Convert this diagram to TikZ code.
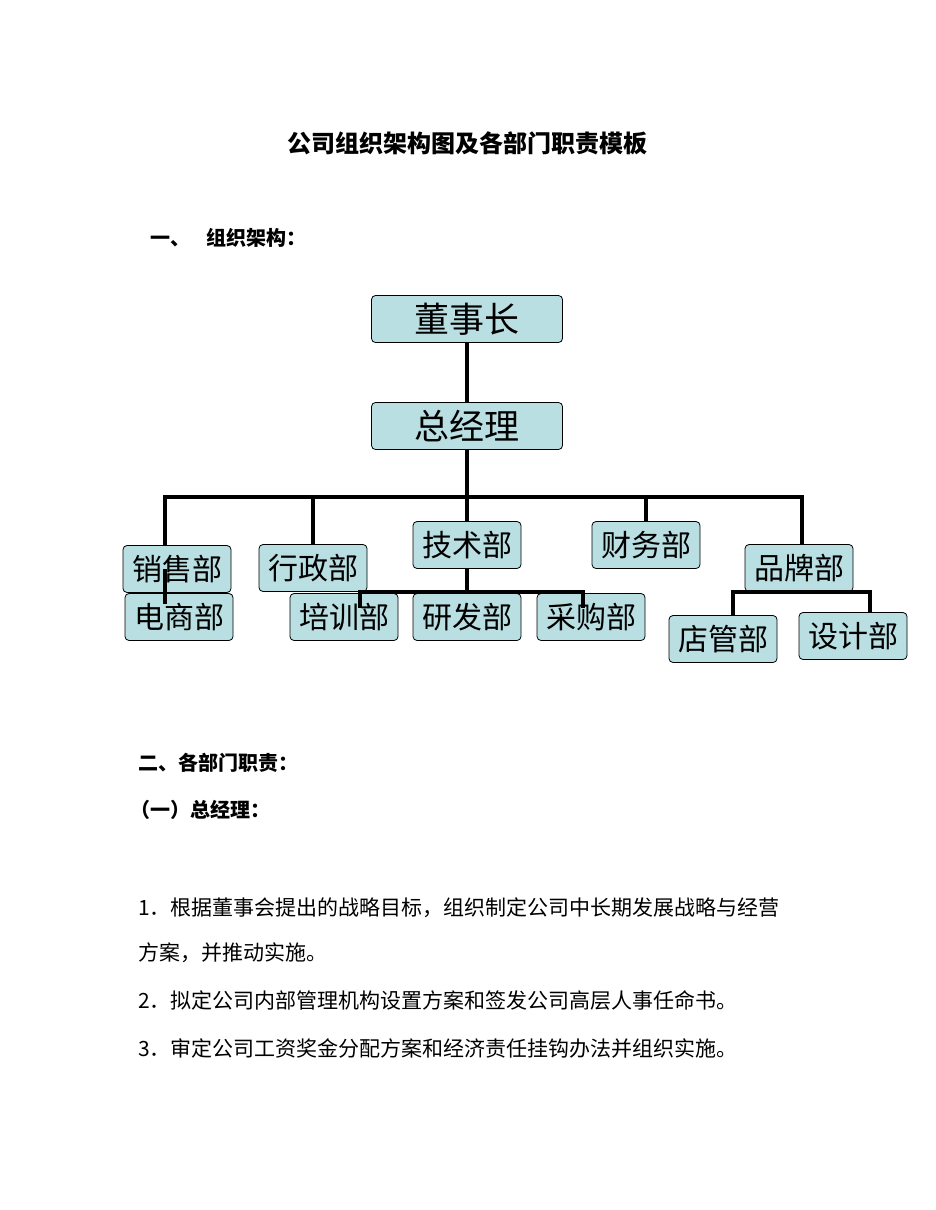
\documentclass[tikz,border=0pt]{standalone}
\usepackage{fontspec}
\setmainfont{Liberation Serif}
\newfontfamily\cjk{Noto Sans CJK SC}
\usetikzlibrary{positioning}
\definecolor{boxfill}{HTML}{B9DFE2}
\tikzset{
  dept/.style={draw=black, thick, fill=boxfill, rounded corners=4pt, minimum width=108pt, minimum height=47pt, inner sep=0pt, font=\cjk\fontsize{30}{30}\selectfont},
  top/.style={dept, minimum width=191pt, font=\cjk\fontsize{35}{35}\selectfont},
  link/.style={line width=4pt},
  txt/.style={anchor=west, inner sep=0pt, font=\cjk\fontsize{21}{21}\selectfont},
  head/.style={anchor=west, inner sep=0pt, font=\cjk\bfseries\fontsize{20}{20}\selectfont}
}
\begin{document}
\begin{tikzpicture}[x=1pt,y=-1pt]
\useasboundingbox[fill=white] (0,0) rectangle (935,1210);

\node[inner sep=0pt, font=\cjk\bfseries\fontsize{24}{24}\selectfont] (title) at (467,143) {公司组织架构图及各部门职责模板};
\node[head] (h1) at (150,238) {一、\hspace{16pt}组织架构：};

% chart
\node[top] (dsz) at (467,319) {董事长};
\node[top] (zjl) at (467,426) {总经理};
\node[dept] (xs) at (177,569) {销售部};
\node[dept] (ds) at (179,617) {电商部};
\node[dept] (xz) at (313,568) {行政部};
\node[dept] (js) at (467,545) {技术部};
\node[dept] (cw) at (646,545) {财务部};
\node[dept] (pp) at (799,568) {品牌部};
\node[dept] (px) at (344,617) {培训部};
\node[dept] (yf) at (467,617) {研发部};
\node[dept] (cg) at (591,617) {采购部};
\node[dept] (dg) at (723,639) {店管部};
\node[dept] (sj) at (853,636) {设计部};

\coordinate (barL) at (165,497);
\coordinate (barR) at (802,497);
\draw[link] (dsz) -- (zjl);
\draw[link] (zjl) -- (zjl|-barL);
\draw[link] (xs.north-|barL) |- (barR) -- (pp.north-|barR);
\draw[link] (xz.north) -- (xz.north|-barL);
\draw[link] (js.north) -- (js.north|-barL);
\draw[link] (cw.north) -- (cw.north|-barL);

% sub-levels
\coordinate (jsL) at (360,592);
\coordinate (jsR) at (583,592);
\draw[link] (js.south) -- (yf.north);
\draw[link] (360,608) -- (jsL) -- (jsR) -- (583,608);
\draw[link] (165,569) -- (165,604);
\coordinate (ppL) at (733,592);
\coordinate (ppR) at (870,592);
\draw[link] (dg.north-|ppL) -- (ppL) -- (ppR) -- (sj.north-|ppR);

% text
\node[head] (h2) at (138,763) {二、各部门职责：};
\node[head] (h3) at (130,810) {（一）总经理：};
\node[txt] (l1) at (138,908) {1．根据董事会提出的战略目标，组织制定公司中长期发展战略与经营};
\node[txt] (l2) at (138,953) {方案，并推动实施。};
\node[txt] (l3) at (138,1000) {2．拟定公司内部管理机构设置方案和签发公司高层人事任命书。};
\node[txt] (l4) at (138,1048) {3．审定公司工资奖金分配方案和经济责任挂钩办法并组织实施。};
\end{tikzpicture}
\end{document}
